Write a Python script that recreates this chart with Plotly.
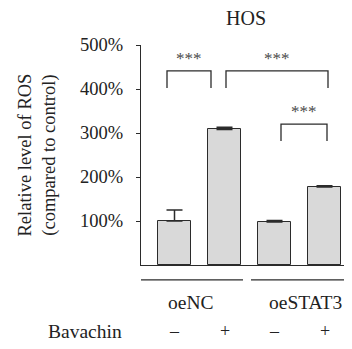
import plotly.graph_objects as go

categories = ["oeNC -", "oeNC +", "oeSTAT3 -", "oeSTAT3 +"]
values = [100, 308, 98, 177]
errors = [25, 5, 3, 3]
tick_vals = [100, 200, 300, 400, 500]
tick_text = ["100%", "200%", "300%", "400%", "500%"]
groups = ["oeNC", "oeSTAT3"]
signs = ["\u2013", "+", "\u2013", "+"]
# brackets: (x0, x1, y_top, y_leg)
brackets = [(-0.15, 0.73, 441, 402), (1.03, 3.07, 441, 402), (2.13, 3.05, 320, 282)]
stars = ["***", "***", "***"]

FONT = "Liberation Serif"
LINE = "#2b2b2b"
xs = list(range(len(categories)))

fig = go.Figure()
fig.add_trace(go.Bar(
    x=xs, y=values, width=0.66,
    marker=dict(color="#d9d9d9", line=dict(color=LINE, width=1)),
    error_y=dict(type="data", array=errors, arrayminus=[0]*4, symmetric=False,
                 color=LINE, thickness=1.5, width=8),
    showlegend=False,
))

shapes = []
annotations = []
for (x0, x1, yt, yl), s in zip(brackets, stars):
    shapes.append(dict(type="path", xref="x", yref="y",
                       path=f"M {x0},{yl} L {x0},{yt} L {x1},{yt} L {x1},{yl}",
                       line=dict(color=LINE, width=1.3)))
    annotations.append(dict(x=(x0 + x1) / 2, y=yt, xref="x", yref="y", text=s,
                            showarrow=False, xanchor="center", yanchor="bottom", yshift=1,
                            font=dict(family=FONT, size=17, color="#4a4a4a")))

# group lines below axis
group_lines = [(-0.69, 1.37), (1.53, 3.7)]
group_label_x = [0.32, 2.61]
for (g0, g1), g, gx in zip(group_lines, groups, group_label_x):
    shapes.append(dict(type="line", xref="x", yref="paper", x0=g0, x1=g1,
                       y0=-0.068, y1=-0.068, line=dict(color=LINE, width=1.3)))
    annotations.append(dict(x=gx, y=-0.172, xref="x", yref="paper", text=g,
                            showarrow=False, xanchor="center", yanchor="middle",
                            font=dict(family=FONT, size=19.5, color="#222")))
for x, s in zip(xs, signs):
    annotations.append(dict(x=x, y=-0.30, xref="x", yref="paper", text=s,
                            showarrow=False, xanchor="center", yanchor="middle",
                            font=dict(family=FONT, size=18, color="#222")))
annotations.append(dict(x=-0.081, y=-0.30, xref="paper", yref="paper", text="Bavachin",
                        xanchor="right", yanchor="middle", showarrow=False,
                        font=dict(family=FONT, size=19.5, color="#222")))
annotations.append(dict(x=-0.5, y=0.5, xref="paper", yref="paper",
                        text="Relative level of ROS<br>(compared to control)",
                        textangle=-90, showarrow=False, xanchor="center", yanchor="middle",
                        font=dict(family=FONT, size=18.5, color="#222")))

fig.update_layout(
    width=344, height=341,
    margin=dict(l=133, r=2, t=37, b=84),
    plot_bgcolor="white", paper_bgcolor="white",
    title=dict(text="HOS", x=0.692, xanchor="center", y=0.99, yanchor="top",
               font=dict(family=FONT, size=20, color="#222")),
    xaxis=dict(range=[-0.67, 3.51], showticklabels=False, ticks="", showgrid=False,
               zeroline=False, showline=True, linecolor=LINE, linewidth=1.3),
    yaxis=dict(range=[0, 500], tickvals=tick_vals, ticktext=tick_text, ticks="outside",
               ticklen=4, tickcolor=LINE, showgrid=False, zeroline=False, showline=True,
               ticklabelstandoff=9,
               linecolor=LINE, linewidth=1.3, tickfont=dict(family=FONT, size=18.5, color="#222")),
    shapes=shapes, annotations=annotations, bargap=0,
)
fig.write_html("out.html")
